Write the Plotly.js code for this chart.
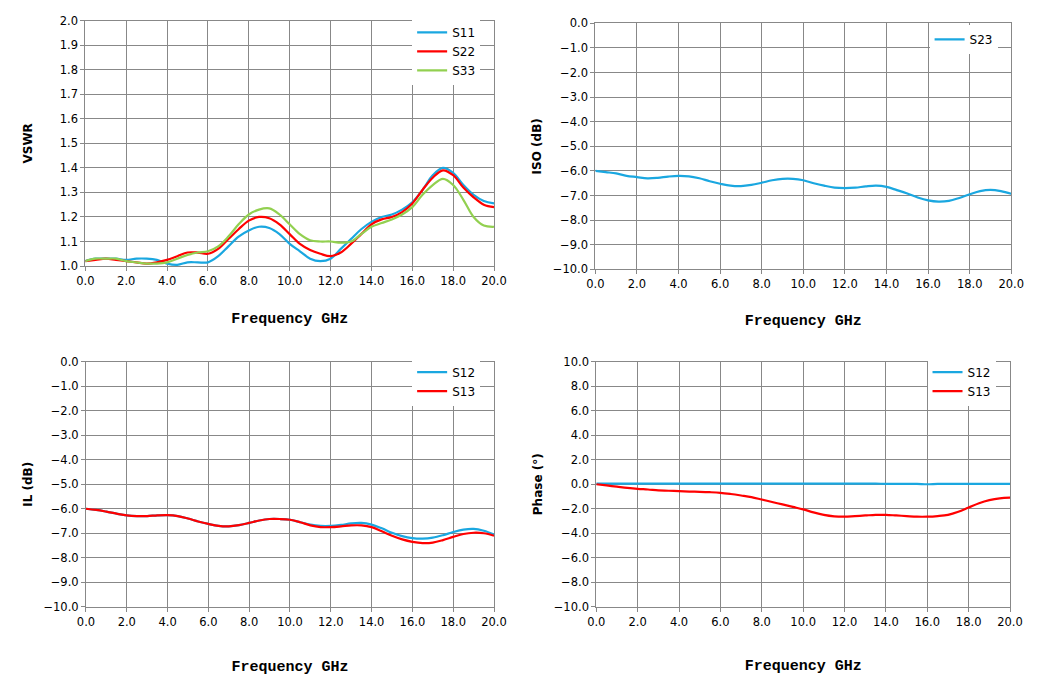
<!DOCTYPE html>
<html>
<head>
<meta charset="utf-8">
<script src="https://cdn.plot.ly/plotly-3.0.1.min.js"></script>
<style>
  html, body { margin: 0; padding: 0; background: #fff; }
  #chart { width: 1037px; height: 689px; }
</style>
</head>
<body>
<div id="chart"></div>
<script>
// frequency points, GHz
const freq = [0, 0.5, 1, 1.5, 2, 2.5, 3, 3.5, 4, 4.5, 5, 5.5, 6, 6.5, 7, 7.5, 8, 8.5, 9, 9.5,
  10, 10.5, 11, 11.5, 12, 12.5, 13, 13.5, 14, 14.5, 15, 15.5, 16, 16.5, 17, 17.5, 18, 18.5, 19, 19.5, 20];

// VSWR
const vswrS11 = [1.02, 1.03, 1.03, 1.03, 1.025, 1.03, 1.03, 1.025, 1.01, 1.005, 1.015, 1.015, 1.015, 1.04, 1.08, 1.12, 1.145, 1.16, 1.155, 1.13,
  1.09, 1.06, 1.03, 1.02, 1.03, 1.07, 1.11, 1.15, 1.18, 1.2, 1.21, 1.23, 1.26, 1.31, 1.37, 1.40, 1.38, 1.33, 1.29, 1.265, 1.255];
const vswrS22 = [1.02, 1.025, 1.03, 1.025, 1.02, 1.015, 1.01, 1.015, 1.025, 1.04, 1.055, 1.055, 1.05, 1.07, 1.11, 1.15, 1.185, 1.2, 1.195, 1.17,
  1.13, 1.09, 1.065, 1.05, 1.04, 1.055, 1.09, 1.13, 1.17, 1.19, 1.2, 1.22, 1.255, 1.31, 1.36, 1.39, 1.37, 1.32, 1.28, 1.25, 1.24];
const vswrS33 = [1.02, 1.03, 1.03, 1.03, 1.02, 1.015, 1.01, 1.01, 1.015, 1.03, 1.045, 1.055, 1.06, 1.08, 1.12, 1.17, 1.21, 1.23, 1.235, 1.21,
  1.17, 1.13, 1.105, 1.1, 1.1, 1.095, 1.1, 1.13, 1.16, 1.175, 1.19, 1.21, 1.24, 1.29, 1.33, 1.355, 1.33, 1.27, 1.2, 1.165, 1.16];

// isolation
const isoS23 = [-6.0, -6.05, -6.1, -6.2, -6.25, -6.3, -6.28, -6.23, -6.2, -6.22, -6.3, -6.42, -6.52, -6.6, -6.62, -6.57, -6.48, -6.38, -6.32, -6.32,
  -6.38, -6.5, -6.6, -6.68, -6.7, -6.68, -6.63, -6.6, -6.65, -6.78, -6.92, -7.08, -7.2, -7.25, -7.22, -7.1, -6.95, -6.82, -6.77, -6.82, -6.93];

// insertion loss
const ilS12 = [-6.0, -6.05, -6.12, -6.2, -6.27, -6.3, -6.3, -6.27, -6.26, -6.3, -6.4, -6.52, -6.62, -6.7, -6.72, -6.67, -6.58, -6.48, -6.42, -6.42,
  -6.45, -6.55, -6.65, -6.7, -6.7, -6.66, -6.6, -6.58, -6.65, -6.8, -6.98, -7.12, -7.2, -7.22, -7.18, -7.08, -6.95, -6.85, -6.82, -6.9, -7.05];
const ilS13 = [-6.0, -6.05, -6.12, -6.2, -6.27, -6.3, -6.3, -6.27, -6.26, -6.3, -6.4, -6.52, -6.62, -6.7, -6.72, -6.67, -6.58, -6.48, -6.42, -6.42,
  -6.45, -6.55, -6.68, -6.75, -6.75, -6.72, -6.68, -6.68, -6.75, -6.92, -7.1, -7.25, -7.35, -7.4, -7.38, -7.28, -7.15, -7.03, -6.98, -7.0, -7.1];

// phase
const phS12 = [0.05, 0.05, 0.05, 0.05, 0.05, 0.05, 0.05, 0.05, 0.05, 0.05, 0.05, 0.05, 0.05, 0.05, 0.05, 0.05, 0.05, 0.05, 0.05, 0.05,
  0.05, 0.05, 0.05, 0.05, 0.05, 0.05, 0.05, 0.05, 0.03, 0.03, 0.03, 0.03, 0.0, 0.03, 0.03, 0.03, 0.03, 0.03, 0.03, 0.03, 0.03];
const phS13 = [0, -0.1, -0.2, -0.3, -0.38, -0.43, -0.5, -0.53, -0.57, -0.6, -0.62, -0.65, -0.7, -0.8, -0.92, -1.05, -1.25, -1.45, -1.65, -1.85,
  -2.05, -2.3, -2.5, -2.62, -2.65, -2.6, -2.55, -2.5, -2.5, -2.55, -2.6, -2.65, -2.65, -2.6, -2.5, -2.25, -1.9, -1.55, -1.3, -1.15, -1.1];

const BLUE = "#1aa7e0";
const RED = "#ff0000";
const GREEN = "#92d050";

function line(y, name, color, xa, ya, leg) {
  return {
    x: freq, y: y, name: name, type: "scatter", mode: "lines",
    line: { color: color, width: 2.2, shape: "spline", smoothing: 1 },
    xaxis: xa, yaxis: ya, legend: leg
  };
}

const data = [
  line(vswrS11, "S11", BLUE, "x", "y", "legend"),
  line(vswrS22, "S22", RED, "x", "y", "legend"),
  line(vswrS33, "S33", GREEN, "x", "y", "legend"),
  line(isoS23, "S23", BLUE, "x2", "y2", "legend2"),
  line(ilS12, "S12", BLUE, "x3", "y3", "legend3"),
  line(ilS13, "S13", RED, "x3", "y3", "legend3"),
  line(phS12, "S12", BLUE, "x4", "y4", "legend4"),
  line(phS13, "S13", RED, "x4", "y4", "legend4")
];

const tickFont = { family: "DejaVu Sans", size: 11.5, color: "#000" };
const xTitleFont = { family: "Liberation Mono", size: 15, color: "#000", weight: "bold" };
const yTitleFont = { family: "DejaVu Sans", size: 12, color: "#000", weight: "bold" };

function xAxis(domain, anchor, standoff) {
  return {
    domain: domain, anchor: anchor, range: [0, 20], dtick: 2, tick0: 0, tickformat: ".1f",
    showgrid: true, gridcolor: "#888", gridwidth: 1, zeroline: false,
    showline: true, linecolor: "#888", linewidth: 1, mirror: true,
    ticks: "outside", ticklen: 4, tickcolor: "#888",
    tickfont: tickFont,
    title: { text: "Frequency GHz", font: xTitleFont, standoff: standoff }
  };
}

function yAxis(domain, anchor, range, dtick, title, standoff) {
  return {
    domain: domain, anchor: anchor, range: range, dtick: dtick, tick0: range[0], tickformat: ".1f",
    showgrid: true, gridcolor: "#888", gridwidth: 1, zeroline: false,
    showline: true, linecolor: "#888", linewidth: 1, mirror: true,
    ticks: "outside", ticklen: 4, tickcolor: "#888",
    tickfont: tickFont,
    title: { text: title, font: yTitleFont, standoff: standoff }
  };
}

function legendAt(x, y) {
  return {
    x: x, y: y, xanchor: "right", yanchor: "top", xref: "paper", yref: "paper",
    bgcolor: "#fff", borderwidth: 0, font: { family: "DejaVu Sans", size: 12, color: "#000" },
    itemwidth: 30, tracegroupgap: 0
  };
}

const layout = {
  width: 1037, height: 689,
  margin: { l: 0, r: 0, t: 0, b: 0 },
  paper_bgcolor: "#fff", plot_bgcolor: "#fff",
  showlegend: true,
  xaxis: xAxis([0.0823, 0.4764], "y", 25),
  yaxis: yAxis([0.6139, 0.970], "x", [1.0, 2.0], 0.1, "VSWR", 24),
  xaxis2: xAxis([0.5741, 0.9752], "y2", 24),
  yaxis2: yAxis([0.6091, 0.9662], "x2", [-10, 0], 1, "ISO (dB)", 8),
  xaxis3: xAxis([0.0829, 0.4764], "y3", 32),
  yaxis3: yAxis([0.1194, 0.4750], "x3", [-10, 0], 1, "IL (dB)", 8),
  xaxis4: xAxis([0.575, 0.974], "y4", 31),
  yaxis4: yAxis([0.1194, 0.4750], "x4", [-10, 10], 2, "Phase (°)", 8),
  legend: legendAt(0.463, 0.974),
  legend2: legendAt(0.962, 0.964),
  legend3: legendAt(0.463, 0.481),
  legend4: legendAt(0.960, 0.481)
};

Plotly.newPlot("chart", data, layout, { staticPlot: true });
</script>
</body>
</html>
